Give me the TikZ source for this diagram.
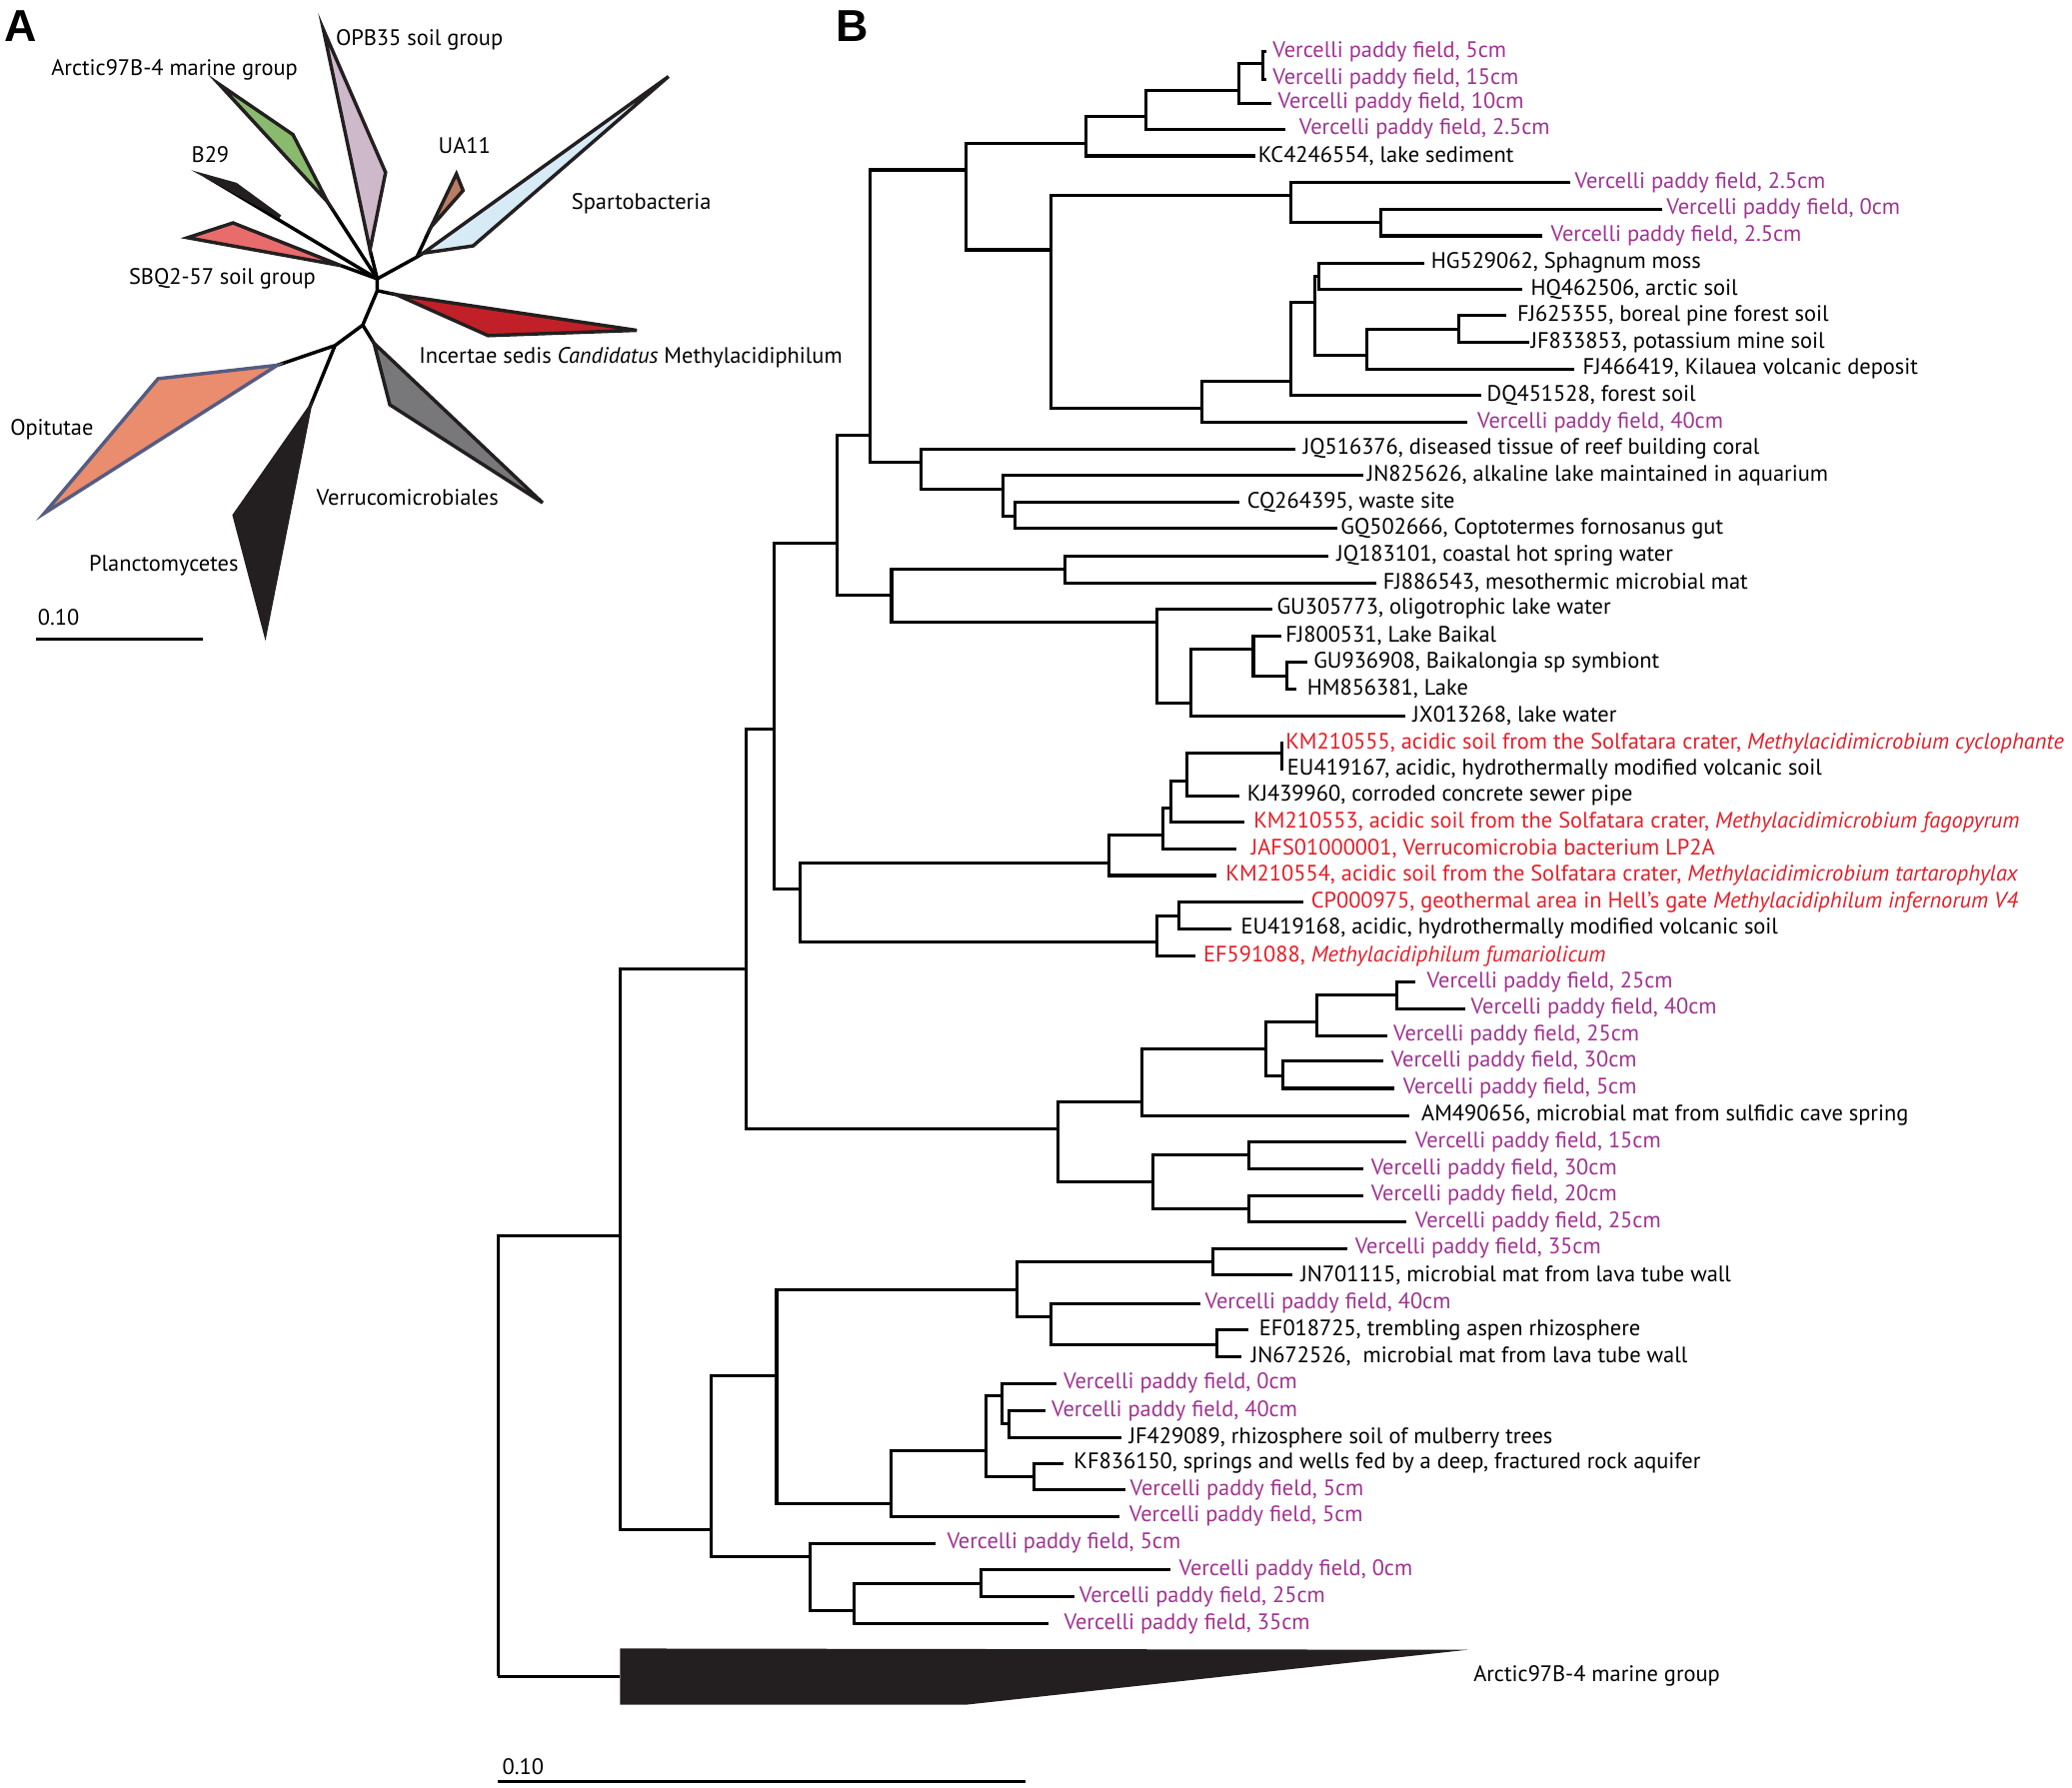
\documentclass[tikz,border=0pt]{standalone}
\usepackage{fontspec}
\setmainfont{PT Sans}
\newfontfamily\panelfont{Liberation Sans}
\usetikzlibrary{calc}
\definecolor{vpurple}{RGB}{160,50,145}
\definecolor{mred}{RGB}{228,30,40}
\definecolor{opbmauve}{RGB}{205,185,202}
\definecolor{arcgreen}{RGB}{138,186,110}
\definecolor{sbqred}{RGB}{232,108,108}
\definecolor{uabrown}{RGB}{185,125,100}
\definecolor{spblue}{RGB}{215,235,246}
\definecolor{incred}{RGB}{193,32,40}
\definecolor{vergray}{RGB}{120,120,122}
\definecolor{pldark}{RGB}{35,31,32}
\definecolor{opiorange}{RGB}{234,140,110}
\definecolor{opiedge}{RGB}{85,92,130}
\tikzset{
    branch/.style={line width=2.3bp, line join=miter},
    spoke/.style={line width=2.6bp, line join=round},
    clade/.style={line width=2.6bp, line join=miter, draw=pldark},
    lbl/.style={anchor=west, inner sep=0pt, font=\fontsize{17}{20}\selectfont},
    acc/.style={lbl, text=black},
    vp/.style={lbl, text=vpurple},
    mt/.style={lbl, text=mred},
    panel/.style={anchor=center, inner sep=0pt, font=\panelfont\fontsize{34}{36}\selectfont\bfseries},
    scalebar/.style={line width=2.2bp}
}
\begin{document}
\begin{tikzpicture}[x=1bp, y=-1bp]
\useasboundingbox (0,0) rectangle (1568,1353);

    % --- PANEL LETTERS ---
    \node (panel_a) [panel] at (16,20) {A};
    \node (panel_b) [panel] at (645,20) {B};

    % --- PANEL A : UNROOTED TREE ---
    \coordinate (hub0) at (285.5,211);
    \coordinate (hub1) at (285.5,220);
    \coordinate (hub2) at (274.5,246);
    \coordinate (hub3) at (253.5,261.5);
    \coordinate (spart0) at (315.5,194.5);

    \draw [spoke] (hub3) -- (hub2) -- (hub1) -- (hub0) -- (spart0);
    \draw [spoke] (hub0) -- (280,189);
    \draw [spoke] (hub0) -- (248,153);
    \draw [spoke] (hub0) -- (155.3,133.1);
    \draw [spoke] (hub0) -- (258,201);
    \draw [spoke] (spart0) -- (326,172);
    \draw [spoke] (spart0) -- (320.2,191.6);
    \draw [spoke] (hub1) -- (300,223);
    \draw [spoke] (hub2) -- (283,259.7);
    \draw [spoke] (hub3) -- (234.5,308);
    \draw [spoke] (hub3) -- (209.9,276.4);

    \draw [clade, fill=opbmauve] (280,189) -- (291.8,130.5) -- (244.7,22.3) -- cycle;
    \draw [clade, fill=arcgreen] (248,153) -- (221.7,101.9) -- (165.8,63.7) -- cycle;
    \draw [clade, fill=pldark] (155.3,133.1) -- (178.4,139.5) -- (212,164) -- cycle;
    \draw [clade, fill=sbqred] (258,201) -- (176.3,168.7) -- (141.9,179.9) -- cycle;
    \draw [clade, fill=uabrown] (326,172) -- (350.4,144.2) -- (345.4,131.6) -- cycle;
    \draw [clade, fill=spblue] (320.2,191.6) -- (358,186.1) -- (505.9,57.9) -- cycle;
    \draw [clade, fill=incred] (300,223) -- (369.4,254) -- (481.9,250) -- cycle;
    \draw [clade, fill=vergray] (283,259.7) -- (295,306.3) -- (410.6,380.5) -- cycle;
    \draw [clade, fill=pldark] (234.5,308) -- (177.2,390) -- (200.7,479.2) -- cycle;
    \draw [clade, draw=opiedge, fill=opiorange] (209.9,276.4) -- (119.6,286.6) -- (33.6,388.4) -- cycle;

    \node (opb35_lbl) [acc] at (254,30) {OPB35 soil group};
    \node (arctic_a_lbl) [acc] at (38.6,52.5) {Arctic97B-4 marine group};
    \node (b29_lbl) [acc] at (144.8,117) {B29};
    \node (ua11_lbl) [acc] at (331.6,109.9) {UA11};
    \node (spart_lbl) [acc] at (432.4,153.8) {Spartobacteria};
    \node (sbq_lbl) [acc] at (97.4,210.8) {SBQ2-57 soil group};
    \node (incert_lbl) [acc] at (317,270.6) {Incertae sedis \textit{Candidatus} Methylacidiphilum};
    \node (opit_lbl) [acc] at (7.6,324.8) {Opitutae};
    \node (verru_lbl) [acc] at (239.3,376.7) {Verrucomicrobiales};
    \node (planct_lbl) [acc] at (67.2,428.2) {Planctomycetes};

    \node (scale_a_lbl) [acc] at (28.5,467) {0.10};
    \coordinate (scale_a0) at (27.3,484);
    \coordinate (scale_a1) at (153.2,484);
    \draw [scalebar] (scale_a0) -- (scale_a1);

    % --- PANEL B : LEAVES ---
    \coordinate (vc01) at (958,39);
    \node (vc01_lbl) [vp] at (963,39) {Vercelli paddy field, 5cm};
    \coordinate (vc02) at (958,60);
    \node (vc02_lbl) [vp] at (963,60) {Vercelli paddy field, 15cm};
    \coordinate (vc03) at (962,78);
    \node (vc03_lbl) [vp] at (967,78) {Vercelli paddy field, 10cm};
    \coordinate (vc04) at (973,97.6);
    \node (vc04_lbl) [vp] at (983,97.6) {Vercelli paddy field, 2.5cm};
    \coordinate (kc4246554) at (950,118);
    \node (kc4246554_lbl) [acc] at (952,118) {KC4246554, lake sediment};
    \coordinate (vc05) at (1188.5,138.2);
    \node (vc05_lbl) [vp] at (1191.6,138.2) {Vercelli paddy field, 2.5cm};
    \coordinate (vc06) at (1258,158.3);
    \node (vc06_lbl) [vp] at (1261,158.3) {Vercelli paddy field, 0cm};
    \coordinate (vc07) at (1167.4,178.5);
    \node (vc07_lbl) [vp] at (1173.4,178.5) {Vercelli paddy field, 2.5cm};
    \coordinate (hg529062) at (1077.9,199.2);
    \node (hg529062_lbl) [acc] at (1082.8,199.2) {HG529062, Sphagnum moss};
    \coordinate (hq462506) at (1152.3,218.8);
    \node (hq462506_lbl) [acc] at (1158.3,218.8) {HQ462506, arctic soil};
    \coordinate (fj625355) at (1140.2,239);
    \node (fj625355_lbl) [acc] at (1148,239) {FJ625355, boreal pine forest soil};
    \coordinate (jf833853) at (1157.1,259.2);
    \node (jf833853_lbl) [acc] at (1158.3,259.2) {JF833853, potassium mine soil};
    \coordinate (fj466419) at (1191.6,279.3);
    \node (fj466419_lbl) [acc] at (1197.6,279.3) {FJ466419, Kilauea volcanic deposit};
    \coordinate (dq451528) at (1120.8,299.5);
    \node (dq451528_lbl) [acc] at (1125,299.5) {DQ451528, forest soil};
    \coordinate (vc08) at (1110,319.7);
    \node (vc08_lbl) [vp] at (1117.8,319.7) {Vercelli paddy field, 40cm};
    \coordinate (jq516376) at (980,339.9);
    \node (jq516376_lbl) [acc] at (986,339.9) {JQ516376, diseased tissue of reef building coral};
    \coordinate (jn825626) at (1031.4,360);
    \node (jn825626_lbl) [acc] at (1034.4,360) {JN825626, alkaline lake maintained in aquarium};
    \coordinate (cq264395) at (937.7,380.2);
    \node (cq264395_lbl) [acc] at (943.7,380.2) {CQ264395, waste site};
    \coordinate (gq502666) at (1012,400.1);
    \node (gq502666_lbl) [acc] at (1014.4,400.1) {GQ502666, Coptotermes fornosanus gut};
    \coordinate (jq183101) at (1005.4,420.6);
    \node (jq183101_lbl) [acc] at (1011.4,420.6) {JQ183101, coastal hot spring water};
    \coordinate (fj886543) at (1041.6,441.2);
    \node (fj886543_lbl) [acc] at (1046.5,441.2) {FJ886543, mesothermic microbial mat};
    \coordinate (gu305773) at (963.1,460.9);
    \node (gu305773_lbl) [acc] at (966.1,460.9) {GU305773, oligotrophic lake water};
    \coordinate (fj800531) at (969.7,481.1);
    \node (fj800531_lbl) [acc] at (972.7,481.1) {FJ800531, Lake Baikal};
    \coordinate (gu936908) at (989,501.2);
    \node (gu936908_lbl) [acc] at (993.9,501.2) {GU936908, Baikalongia sp symbiont};
    \coordinate (hm856381) at (981.2,521.4);
    \node (hm856381_lbl) [acc] at (989,521.4) {HM856381, Lake};
    \coordinate (jx013268) at (1063.4,541.6);
    \node (jx013268_lbl) [acc] at (1068.9,541.6) {JX013268, lake water};
    \coordinate (km210555) at (971,562.3);
    \node (km210555_lbl) [mt] at (972.7,562.3) {KM210555, acidic soil from the Solfatara crater, \textit{Methylacidimicrobium cyclophante}};
    \coordinate (eu419167) at (971,582.4);
    \node (eu419167_lbl) [acc] at (974,582.4) {EU419167, acidic, hydrothermally modified volcanic soil};
    \coordinate (kj439960) at (937.7,602.1);
    \node (kj439960_lbl) [acc] at (943.7,602.1) {KJ439960, corroded concrete sewer pipe};
    \coordinate (km210553) at (941.9,622.2);
    \node (km210553_lbl) [mt] at (948.5,622.2) {KM210553, acidic soil from the Solfatara crater, \textit{Methylacidimicrobium fagopyrum}};
    \coordinate (jafs01000001) at (935.9,642.4);
    \node (jafs01000001_lbl) [mt] at (946.7,642.4) {JAFS01000001, Verrucomicrobia bacterium LP2A};
    \coordinate (km210554) at (920.7,662.6);
    \node (km210554_lbl) [mt] at (927.4,662.6) {KM210554, acidic soil from the Solfatara crater, \textit{Methylacidimicrobium tartarophylax}};
    \coordinate (cp000975) at (986,682.8);
    \node (cp000975_lbl) [mt] at (992,682.8) {CP000975, geothermal area in Hell’s gate \textit{Methylacidiphilum infernorum V4}};
    \coordinate (eu419168) at (931.6,702.9);
    \node (eu419168_lbl) [acc] at (938.9,702.9) {EU419168, acidic, hydrothermally modified volcanic soil};
    \coordinate (ef591088) at (904.4,723.6);
    \node (ef591088_lbl) [mt] at (910.5,723.6) {EF591088, \textit{Methylacidiphilum fumariolicum}};
    \coordinate (vc09) at (1070.7,743.3);
    \node (vc09_lbl) [vp] at (1079.7,743.3) {Vercelli paddy field, 25cm};
    \coordinate (vc10) at (1108.7,763.4);
    \node (vc10_lbl) [vp] at (1113,763.4) {Vercelli paddy field, 40cm};
    \coordinate (vc11) at (1049.5,783.7);
    \node (vc11_lbl) [vp] at (1054.3,783.7) {Vercelli paddy field, 25cm};
    \coordinate (vc12) at (1046.5,803.1);
    \node (vc12_lbl) [vp] at (1052.5,803.1) {Vercelli paddy field, 30cm};
    \coordinate (vc13) at (1055.5,823.7);
    \node (vc13_lbl) [vp] at (1061.6,823.7) {Vercelli paddy field, 5cm};
    \coordinate (am490656) at (1066.4,844.2);
    \node (am490656_lbl) [acc] at (1075.5,844.2) {AM490656, microbial mat from sulfidic cave spring};
    \coordinate (vc14) at (1064.6,864.3);
    \node (vc14_lbl) [vp] at (1070.7,864.3) {Vercelli paddy field, 15cm};
    \coordinate (vc15) at (1031.4,884.5);
    \node (vc15_lbl) [vp] at (1037.4,884.5) {Vercelli paddy field, 30cm};
    \coordinate (vc16) at (1031.4,904.7);
    \node (vc16_lbl) [vp] at (1037.4,904.7) {Vercelli paddy field, 20cm};
    \coordinate (vc17) at (1064.6,924.8);
    \node (vc17_lbl) [vp] at (1070.7,924.8) {Vercelli paddy field, 25cm};
    \coordinate (vc18) at (1019.3,944.8);
    \node (vc18_lbl) [vp] at (1025.3,944.8) {Vercelli paddy field, 35cm};
    \coordinate (jn701115) at (978.2,965);
    \node (jn701115_lbl) [acc] at (984.2,965) {JN701115, microbial mat from lava tube wall};
    \coordinate (vc19) at (908.7,986.4);
    \node (vc19_lbl) [vp] at (911.7,986.4) {Vercelli paddy field, 40cm};
    \coordinate (ef018725) at (944.9,1006.5);
    \node (ef018725_lbl) [acc] at (952.8,1006.5) {EF018725, trembling aspen rhizosphere};
    \coordinate (jn672526) at (939.5,1026.7);
    \node (jn672526_lbl) [acc] at (946.7,1026.7) {JN672526, \ microbial mat from lava tube wall};
    \coordinate (vc20) at (799.8,1046.9);
    \node (vc20_lbl) [vp] at (804.7,1046.9) {Vercelli paddy field, 0cm};
    \coordinate (vc21) at (791.4,1067.8);
    \node (vc21_lbl) [vp] at (795.6,1067.8) {Vercelli paddy field, 40cm};
    \coordinate (jf429089) at (848.8,1088);
    \node (jf429089_lbl) [acc] at (854.2,1088) {JF429089, rhizosphere soil of mulberry trees};
    \coordinate (kf836150) at (804.7,1107.4);
    \node (kf836150_lbl) [acc] at (812.5,1107.4) {KF836150, springs and wells fed by a deep, fractured rock aquifer};
    \coordinate (vc22) at (851.5,1127.5);
    \node (vc22_lbl) [vp] at (855,1127.5) {Vercelli paddy field, 5cm};
    \coordinate (vc23) at (847.5,1147.7);
    \node (vc23_lbl) [vp] at (854.4,1147.7) {Vercelli paddy field, 5cm};
    \coordinate (vc24) at (708,1167.9);
    \node (vc24_lbl) [vp] at (716.5,1167.9) {Vercelli paddy field, 5cm};
    \coordinate (vc25) at (885.8,1188.1);
    \node (vc25_lbl) [vp] at (892,1188.1) {Vercelli paddy field, 0cm};
    \coordinate (vc26) at (812.8,1208.2);
    \node (vc26_lbl) [vp] at (816.6,1208.2) {Vercelli paddy field, 25cm};
    \coordinate (vc27) at (793.6,1228.7);
    \node (vc27_lbl) [vp] at (805.1,1228.7) {Vercelli paddy field, 35cm};
    \coordinate (arctic) at (469.2,1268.7);
    \node (arctic_lbl) [acc] at (1114.9,1268.7) {Arctic97B-4 marine group};

    % --- PANEL B : INTERNAL NODES ---
    \coordinate (n01) at (956,48);
    \coordinate (n02) at (937.7,68.8);
    \coordinate (n03) at (867,88.2);
    \coordinate (n04) at (821.6,108.4);
    \coordinate (n05) at (731,128.6);
    \coordinate (n06) at (795.6,189.1);
    \coordinate (n07) at (977,148);
    \coordinate (n08) at (1045.3,168.4);
    \coordinate (n09) at (909.2,308.8);
    \coordinate (n10) at (977,288.7);
    \coordinate (n11) at (995,229);
    \coordinate (n12) at (998,209.3);
    \coordinate (n13) at (1034.4,269.2);
    \coordinate (n14) at (1103.9,249);
    \coordinate (n15) at (658.4,329.6);
    \coordinate (n16) at (697,350);
    \coordinate (n17) at (759.3,370.1);
    \coordinate (n18) at (768.4,390.8);
    \coordinate (n19) at (633.6,410.8);
    \coordinate (n20) at (674.7,450.6);
    \coordinate (n21) at (805.9,430.6);
    \coordinate (n22) at (875.4,471);
    \coordinate (n23) at (901.4,532);
    \coordinate (n24) at (948.5,491.1);
    \coordinate (n25) at (974,511.8);
    \coordinate (n26) at (969.7,569.8);
    \coordinate (n27) at (898.4,591.3);
    \coordinate (n28) at (886.3,611.4);
    \coordinate (n29) at (880.2,632.3);
    \coordinate (n30) at (839.1,653);
    \coordinate (n31) at (892.3,693.3);
    \coordinate (n32) at (875.4,713);
    \coordinate (n33) at (605.6,672.7);
    \coordinate (n34) at (586,551.9);
    \coordinate (n35) at (565,733.6);
    \coordinate (n36) at (800.4,854.2);
    \coordinate (n37) at (863.9,834.1);
    \coordinate (n38) at (957.6,793.7);
    \coordinate (n39) at (996.3,773.6);
    \coordinate (n40) at (1056.7,753.3);
    \coordinate (n41) at (970.9,814.4);
    \coordinate (n42) at (872.4,894.6);
    \coordinate (n43) at (944.9,874.2);
    \coordinate (n44) at (944.9,914.7);
    \coordinate (n45) at (469.5,935.1);
    \coordinate (n46) at (769.6,976.4);
    \coordinate (n47) at (917.7,954.9);
    \coordinate (n48) at (795.6,996.7);
    \coordinate (n49) at (920.7,1017.4);
    \coordinate (n50) at (587.7,1041.3);
    \coordinate (n51) at (674,1137.7);
    \coordinate (n52) at (746.2,1097.8);
    \coordinate (n53) at (758.1,1056.5);
    \coordinate (n54) at (763.6,1077.4);
    \coordinate (n55) at (782.3,1117.5);
    \coordinate (n56) at (538.2,1157.7);
    \coordinate (n57) at (613,1178);
    \coordinate (n58) at (646.4,1219);
    \coordinate (n59) at (742.1,1198.2);
    \coordinate (root) at (376.9,1268.7);

    % --- PANEL B : BRANCHES ---
    \draw [branch] (n01) |- (vc01) (n01) |- (vc02);
    \draw [branch] (n02) |- (n01) (n02) |- (vc03);
    \draw [branch] (n03) |- (n02) (n03) |- (vc04);
    \draw [branch] (n04) |- (n03) (n04) |- (kc4246554);
    \draw [branch] (n05) |- (n04) (n05) |- (n06);
    \draw [branch] (n06) |- (n07) (n06) |- (n09);
    \draw [branch] (n07) |- (vc05) (n07) |- (n08);
    \draw [branch] (n08) |- (vc06) (n08) |- (vc07);
    \draw [branch] (n09) |- (n10) (n09) |- (vc08);
    \draw [branch] (n10) |- (n11) (n10) |- (dq451528);
    \draw [branch] (n11) |- (n12) (n11) |- (n13);
    \draw [branch] (n12) |- (hg529062) (n12) |- (hq462506);
    \draw [branch] (n13) |- (n14) (n13) |- (fj466419);
    \draw [branch] (n14) |- (fj625355) (n14) |- (jf833853);
    \draw [branch] (n15) |- (n05) (n15) |- (n16);
    \draw [branch] (n16) |- (jq516376) (n16) |- (n17);
    \draw [branch] (n17) |- (jn825626) (n17) |- (n18);
    \draw [branch] (n18) |- (cq264395) (n18) |- (gq502666);
    \draw [branch] (n19) |- (n15) (n19) |- (n20);
    \draw [branch] (n20) |- (n21) (n20) |- (n22);
    \draw [branch] (n21) |- (jq183101) (n21) |- (fj886543);
    \draw [branch] (n22) |- (gu305773) (n22) |- (n23);
    \draw [branch] (n23) |- (n24) (n23) |- (jx013268);
    \draw [branch] (n24) |- (fj800531) (n24) |- (n25);
    \draw [branch] (n25) |- (gu936908) (n25) |- (hm856381);
    \draw [branch] (n26) |- (km210555) (n26) |- (eu419167);
    \draw [branch] (n27) |- (n26) (n27) |- (kj439960);
    \draw [branch] (n28) |- (n27) (n28) |- (km210553);
    \draw [branch] (n29) |- (n28) (n29) |- (jafs01000001);
    \draw [branch] (n30) |- (n29) (n30) |- (km210554);
    \draw [branch] (n31) |- (cp000975) (n31) |- (eu419168);
    \draw [branch] (n32) |- (n31) (n32) |- (ef591088);
    \draw [branch] (n33) |- (n30) (n33) |- (n32);
    \draw [branch] (n34) |- (n19) (n34) |- (n33);
    \draw [branch] (n35) |- (n34) (n35) |- (n36);
    \draw [branch] (n36) |- (n37) (n36) |- (n42);
    \draw [branch] (n37) |- (n38) (n37) |- (am490656);
    \draw [branch] (n38) |- (n39) (n38) |- (n41);
    \draw [branch] (n39) |- (n40) (n39) |- (vc11);
    \draw [branch] (n40) |- (vc09) (n40) |- (vc10);
    \draw [branch] (n41) |- (vc12) (n41) |- (vc13);
    \draw [branch] (n42) |- (n43) (n42) |- (n44);
    \draw [branch] (n43) |- (vc14) (n43) |- (vc15);
    \draw [branch] (n44) |- (vc16) (n44) |- (vc17);
    \draw [branch] (n45) |- (n35) (n45) |- (n56);
    \draw [branch] (n46) |- (n47) (n46) |- (n48);
    \draw [branch] (n47) |- (vc18) (n47) |- (jn701115);
    \draw [branch] (n48) |- (vc19) (n48) |- (n49);
    \draw [branch] (n49) |- (ef018725) (n49) |- (jn672526);
    \draw [branch] (n50) |- (n46) (n50) |- (n51);
    \draw [branch] (n51) |- (n52) (n51) |- (vc23);
    \draw [branch] (n52) |- (n53) (n52) |- (n55);
    \draw [branch] (n53) |- (vc20) (n53) |- (n54);
    \draw [branch] (n54) |- (vc21) (n54) |- (jf429089);
    \draw [branch] (n55) |- (kf836150) (n55) |- (vc22);
    \draw [branch] (n56) |- (n50) (n56) |- (n57);
    \draw [branch] (n57) |- (vc24) (n57) |- (n58);
    \draw [branch] (n58) |- (n59) (n58) |- (vc27);
    \draw [branch] (n59) |- (vc25) (n59) |- (vc26);
    \draw [branch] (root) |- (n45) (root) -- (arctic);

    % collapsed Arctic97B-4 clade
    \fill [pldark] (469.2,1247.6) -- (1110.3,1248.6) -- (730.5,1290.2) -- (469.2,1290.2) -- cycle;

    % --- PANEL B : SCALE ---
    \node (scale_b_lbl) [acc] at (380,1336.8) {0.10};
    \coordinate (scale_b0) at (376.9,1348.2);
    \coordinate (scale_b1) at (775.9,1348.2);
    \draw [scalebar] (scale_b0) -- (scale_b1);

\end{tikzpicture}
\end{document}
